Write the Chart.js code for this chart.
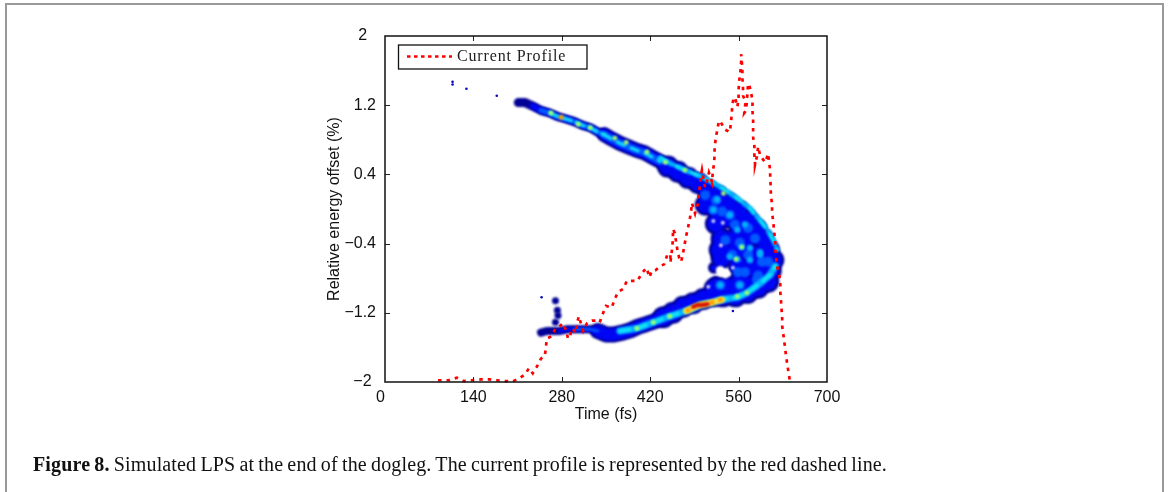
<!DOCTYPE html>
<html lang="en">
  <head>
    <meta charset="UTF-8" />
    <title>Figure 8</title>
    <script src="https://cdn.jsdelivr.net/npm/chart.js"></script>
    <style>
      html, body { margin: 0; padding: 0; background: #fff; overflow: hidden; }
      #frame { position: absolute; left: 5px; top: 3px; width: 1159px; height: 489px;
               border: solid #999; border-width: 2px 2px 0 2px; box-sizing: border-box; }
      #caption { position: absolute; left: 33px; top: 453px; white-space: nowrap; color: #111;
                 font: 20px "Liberation Serif", serif; letter-spacing: 0.15px; word-spacing: -1px; }
      canvas { position: absolute; left: 0; top: 0; }
    </style>
  </head>
  <body>
    <div id="frame"></div>
    <canvas id="lps" width="1174" height="492"></canvas>
    <div id="caption"><b>Figure 8.</b> Simulated LPS at the end of the dogleg. The current profile is represented by the red dashed line.</div>
    <script>
      const timeTicks = [0, 140, 280, 420, 560, 700];
      const energyTicks = [-2, -1.2, -0.4, 0.4, 1.2, 2];

      // current profile, plotted on the energy axis like the original overlay
      const currentPoints = [[84, -1.98], [101, -1.98], [114, -1.95], [125, -1.99], [137, -1.98], [152, -1.97], [165, -1.97], [177, -1.98], [190, -1.99], [203, -1.99],
        [214, -1.95], [222, -1.91], [228, -1.84], [234, -1.90], [240, -1.83], [247, -1.73], [253, -1.70], [255, -1.60], [256, -1.50], [264, -1.47],
        [270, -1.38], [276, -1.36], [282, -1.32], [287, -1.41], [290, -1.50], [293, -1.47], [296, -1.38], [303, -1.43], [304, -1.32], [307, -1.24],
        [311, -1.34], [314, -1.41], [320, -1.32], [328, -1.29], [337, -1.29], [340, -1.31], [345, -1.21], [350, -1.12], [359, -1.14], [364, -1.04],
        [369, -0.96], [378, -0.92], [383, -0.83], [392, -0.83], [400, -0.83], [406, -0.75], [414, -0.68], [419, -0.79], [422, -0.72], [428, -0.71],
        [436, -0.66], [442, -0.64], [447, -0.53], [452, -0.52], [452, -0.62], [455, -0.44], [456, -0.34], [456, -0.23], [459, -0.28], [461, -0.38],
        [463, -0.47], [466, -0.57], [469, -0.61], [472, -0.51], [477, -0.31], [480, -0.21], [483, -0.10], [485, -0.01], [486, 0.07], [491, -0.05],
        [492, -0.02], [496, 0.07], [497, 0.18], [499, 0.28], [500, 0.37], [502, 0.45], [504, 0.36], [507, 0.25], [510, 0.32], [513, 0.42],
        [518, 0.31], [519, 0.42], [521, 0.52], [522, 0.62], [522, 0.72], [524, 0.82], [526, 0.91], [529, 1.02], [532, 1.00], [538, 0.92],
        [546, 0.89], [548, 1.00], [550, 1.19], [552, 1.29], [555, 1.27], [558, 1.18], [560, 1.28], [560, 1.38], [561, 1.48], [563, 1.60],
        [564, 1.70], [564, 1.79], [566, 1.62], [566, 1.51], [567, 1.41], [567, 1.31], [571, 1.24], [569, 1.11], [572, 1.14], [574, 1.34],
        [575, 1.45], [577, 1.43], [580, 1.34], [582, 1.24], [582, 1.13], [583, 1.04], [583, 0.92], [583, 0.83], [585, 0.73], [585, 0.62],
        [586, 0.53], [586, 0.51], [589, 0.61], [591, 0.72], [594, 0.62], [602, 0.54], [607, 0.64], [608, 0.55], [610, 0.45], [610, 0.36],
        [611, 0.25], [611, 0.16], [613, 0.06], [613, -0.05], [615, -0.15], [616, -0.25], [618, -0.35], [618, -0.45], [619, -0.55], [621, -0.66],
        [624, -0.75], [626, -0.84], [626, -0.95], [627, -1.05], [629, -1.26], [629, -1.35], [632, -1.51], [635, -1.69], [638, -1.84], [641, -1.98]];

      // density: ridges of the two arms and spots of each colour level, all [time, energy]
      const upperTipRidge = [[211, 1.23], [222, 1.23], [234, 1.19], [247, 1.14], [261, 1.11], [273, 1.07], [287, 1.04], [300, 1.01], [312, 0.97], [325, 0.94], [337, 0.89], [347, 0.86]];
      const upperMidRidge = [[347, 0.86], [359, 0.81], [372, 0.76], [385, 0.72], [398, 0.68], [411, 0.65], [423, 0.60], [436, 0.55]];
      const outerRidge = [[436, 0.59], [451, 0.53], [475, 0.45], [499, 0.38], [518, 0.31], [539, 0.22], [559, 0.12], [578, 0.01], [594, -0.13], [605, -0.23], [615, -0.36], [621, -0.47]];
      const lowerTipRidge = [[247, -1.43], [256, -1.41], [266, -1.41], [277, -1.41], [289, -1.39], [300, -1.39], [311, -1.39], [325, -1.39], [337, -1.41]];
      const lowerMidRidge = [[337, -1.41], [350, -1.45], [363, -1.45], [376, -1.43], [389, -1.40], [401, -1.36], [414, -1.33], [426, -1.30], [441, -1.25]];
      const lowerRidge = [[372, -1.41], [399, -1.38], [425, -1.31], [451, -1.24], [480, -1.17], [499, -1.11], [518, -1.08], [531, -1.05], [558, -1.02], [573, -0.97], [594, -0.86], [610, -0.76], [618, -0.66]];
      const hotRidge = [[477, -1.18], [499, -1.11], [518, -1.08], [534, -1.05]];
      const redRidge = [[488, -1.13], [495, -1.11], [503, -1.11], [511, -1.10]];

      const speckPoints = [[107, 1.47], [107, 1.44], [129, 1.39], [177, 1.31], [248, -1.02], [551, -1.18]];
      const sideBlobPoints = [[270, -1.06], [273, -1.17], [274, -1.23], [270, -1.31]];
      const fingerPoints = [[521, -0.68], [524, -0.84]];
      const bodyEdgePoints = [[448, 0.49], [464, 0.43], [480, 0.36], [496, 0.30], [511, 0.22], [527, 0.15], [543, 0.07], [560, -0.02], [575, -0.13], [588, -0.23], [599, -0.35], [608, -0.47], [615, -0.59], [611, -0.71], [600, -0.82],
        [508, 0.05], [526, -0.01], [543, -0.10], [561, -0.20], [577, -0.31], [524, -0.17], [533, -0.34], [555, -0.34], [530, -0.47], [552, -0.50], [572, -0.47], [591, -0.53], [533, -0.57], [560, -0.65], [578, -0.68], [594, -0.71], [563, -0.82], [582, -0.88], [550, -0.94],
        [441, -1.25], [456, -1.20], [472, -1.13], [488, -1.09], [504, -1.04], [519, -1.01], [535, -1.01], [555, -1.01], [574, -0.97], [591, -0.91], [607, -0.84], [522, -0.92], [541, -0.90]];
      const mediumPoints = [[534, -0.03], [554, -0.18], [575, -0.22], [539, -0.36], [562, -0.39], [586, -0.34], [550, -0.53], [575, -0.53], [597, -0.61], [570, -0.73], [591, -0.77], [524, 0.10], [507, 0.16], [559, -0.73], [531, -0.88], [562, -0.88], [589, -0.82], [520, -0.01], [546, -0.07], [607, -0.61]];
      const lightPoints = [[526, 0.11], [546, -0.07], [558, -0.24], [565, -0.44], [578, -0.45], [594, -0.50], [546, -0.55], [558, -0.58], [578, -0.59], [594, -0.53], [520, -0.01], [570, -0.18], [531, -0.88], [562, -0.88]];
      const gapPoints = [[520, -0.14], [535, -0.16], [532, -0.42], [551, -0.68], [512, -0.90]];
      const holePoints = [[531, -0.71], [539, -0.75]];
      const greenPoints = [[263, 1.11], [306, 0.98], [325, 0.94], [364, 0.82], [382, 0.77], [415, 0.66], [444, 0.54], [475, 0.45], [536, 0.18], [565, -0.44], [556, -0.58], [399, -1.38], [425, -1.31], [451, -1.24], [573, -0.97], [558, -1.01]];
      const orangePoints = [[279, 1.06], [480, -1.17], [518, -1.08], [531, -1.05]];

      const navy = "#000096";
      const blue = "#0006f4";
      const medium = "#0058ff";
      const light = "#00b0ff";
      const cyan = "#10e4f8";

      function spots(points, color, radius) {
        return {
          data: points.map(p => ({ x: p[0], y: p[1] })),
          backgroundColor: color,
          pointRadius: radius,
          pointBorderWidth: 0,
        };
      }

      function ridge(points, color, width, dash) {
        return {
          data: points.map(p => ({ x: p[0], y: p[1] })),
          showLine: true,
          tension: 0,
          borderColor: color,
          borderWidth: width,
          borderDash: dash || [],
          borderCapStyle: "round",
          borderJoinStyle: "round",
          pointRadius: 0,
        };
      }

      // inward ticks on all four sides, MATLAB style box, and the boxed legend
      const matlabBox = {
        id: "matlabBox",
        beforeDatasetDraw(chart, args) {
          // the line on top and the tiny specks at the bottom stay sharp
          if (args.index > 0 && args.index < chart.data.datasets.length - 1) chart.ctx.filter = "blur(1px)";
        },
        afterDatasetDraw(chart) {
          chart.ctx.filter = "none";
        },
        afterDraw(chart) {
          const { ctx, chartArea: a, scales } = chart;
          ctx.save();
          ctx.strokeStyle = "#222";
          ctx.lineWidth = 1;
          ctx.beginPath();
          timeTicks.slice(1, -1).forEach(v => {
            const x = Math.round(scales.x.getPixelForValue(v)) + 0.5;
            ctx.moveTo(x, a.bottom); ctx.lineTo(x, a.bottom - 5);
            ctx.moveTo(x, a.top); ctx.lineTo(x, a.top + 5);
          });
          energyTicks.slice(1, -1).forEach(v => {
            const y = Math.round(scales.y.getPixelForValue(v)) + 0.5;
            ctx.moveTo(a.left, y); ctx.lineTo(a.left + 5, y);
            ctx.moveTo(a.right, y); ctx.lineTo(a.right - 5, y);
          });
          ctx.stroke();
          ctx.lineWidth = 1.5;
          ctx.strokeStyle = "#111";
          ctx.strokeRect(a.left, a.top, a.right - a.left, a.bottom - a.top);

          // legend
          ctx.fillStyle = "#fff";
          ctx.fillRect(398.5, 45, 188.5, 24);
          ctx.lineWidth = 1.3;
          ctx.strokeRect(398.5, 45, 188.5, 24);
          ctx.strokeStyle = "#ff0000";
          ctx.lineWidth = 2.7;
          ctx.setLineDash([3.5, 3.5]);
          ctx.beginPath();
          ctx.moveTo(407, 56.5);
          ctx.lineTo(452, 56.5);
          ctx.stroke();
          ctx.setLineDash([]);
          ctx.fillStyle = "#222";
          ctx.textBaseline = "middle";
          ctx.font = '16px "Liberation Serif", serif';
          ctx.letterSpacing = "0.85px";
          ctx.fillText(chart.data.datasets[0].label, 457, 57);
          ctx.restore();
        },
      };

      new Chart(document.getElementById("lps"), {
        type: "scatter",
        data: {
          // chart.js paints the first dataset last, so the list runs top layer first
          datasets: [
            {
              label: "Current Profile",
              data: currentPoints.map(p => ({ x: p[0], y: p[1] })),
              showLine: true,
              tension: 0,
              borderColor: "#ff0000",
              borderWidth: 2.7,
              borderDash: [3.5, 5],
              pointRadius: 0,
              clip: false,
            },
            ridge(redRidge, "#d81000", 4.5),
            spots(orangePoints, "#ffa000", 2.5),
            ridge(hotRidge, "#ffe040", 6),
            spots(greenPoints, "#a8ff68", 2.4),
            ridge(lowerRidge, cyan, 3.5, [10, 7]),
            ridge(outerRidge, cyan, 2.5, [8, 9]),
            ridge(upperMidRidge, cyan, 3, [8, 7]),
            ridge(upperTipRidge.slice(4), cyan, 3, [9, 5]),
            spots(gapPoints, "#ffffff", 1.8),
            spots(holePoints, "#ffffff", 4.5),
            spots(lightPoints, light, 3.2),
            ridge(lowerRidge, light, 7, [16, 4]),
            ridge(outerRidge, light, 5, [14, 5]),
            ridge(upperMidRidge, medium, 7),
            ridge(upperTipRidge.slice(3), medium, 5),
            spots(mediumPoints, medium, 5),
            ridge(lowerTipRidge.slice(5), medium, 3),
            ridge(lowerMidRidge, blue, 12),
            ridge(lowerTipRidge.slice(3), blue, 4),
            ridge(upperMidRidge, blue, 11),
            ridge(upperTipRidge.slice(2), blue, 6),
            spots(bodyEdgePoints, blue, 8.5),
            spots(fingerPoints, blue, 3),
            spots(bodyEdgePoints, navy, 11),
            spots(fingerPoints, navy, 6),
            ridge(lowerMidRidge, navy, 16),
            ridge(lowerTipRidge, navy, 8),
            ridge(upperMidRidge, navy, 15),
            ridge(upperTipRidge, navy, 9),
            spots(sideBlobPoints, navy, 3.5),
            spots(speckPoints, "#0a0ab8", 1.3),
          ],
        },
        options: {
          responsive: false,
          animation: false,
          events: [],
          layout: { padding: { left: 325, top: 36, right: 347, bottom: 68 } },
          plugins: { legend: { display: false }, tooltip: { enabled: false } },
          scales: {
            x: {
              type: "linear",
              min: 0,
              max: 700,
              afterFit: s => { s.height = 42; },
              afterBuildTicks: s => { s.ticks = timeTicks.map(v => ({ value: v })); },
              grid: { display: false, drawTicks: false },
              border: { display: false },
              ticks: {
                padding: 6,
                color: "#111",
                maxRotation: 0,
                font: { family: "Liberation Sans", size: 16 },
                // the original sets the 0 label a little left of the axis
                callback: v => (v === 0 ? "0  " : String(v)),
              },
              title: { display: true, text: "Time (fs)", color: "#111", padding: 0, font: { family: "Liberation Sans", size: 16 } },
            },
            y: {
              min: -2,
              max: 2,
              afterFit: s => { s.width = 60; },
              afterBuildTicks: s => { s.ticks = energyTicks.map(v => ({ value: v })); },
              grid: { display: false, drawTicks: false },
              border: { display: false },
              ticks: {
                padding: 9,
                color: "#111",
                font: { family: "Liberation Sans", size: 16 },
                // end labels sit further from the axis in the original
                callback: v => {
                  const pad = v === 2 ? "  " : v === -2 ? " " : "";
                  return String(v).replace("-", "\u2212") + pad;
                },
              },
              title: { display: true, text: "Relative energy offset (%)", color: "#111", padding: 0, font: { family: "Liberation Sans", size: 16 } },
            },
          },
        },
        plugins: [matlabBox],
      });
    </script>
  </body>
</html>
